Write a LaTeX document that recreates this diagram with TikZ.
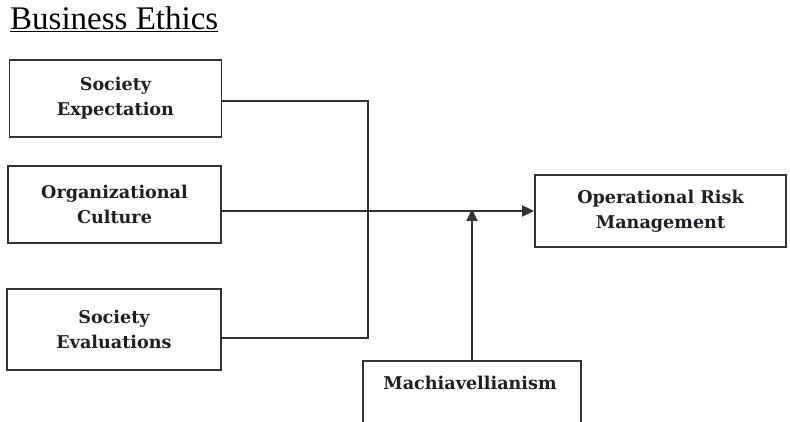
\documentclass[tikz,border=0pt]{standalone}
\usepackage{fontspec}
\setmainfont{DejaVu Serif}
\newfontfamily\titlefont{Liberation Serif}
\usetikzlibrary{arrows.meta}
\definecolor{linegray}{HTML}{333333}
\definecolor{textdark}{HTML}{1E1E28}
\begin{document}
\begin{tikzpicture}[x=1pt,y=-1pt,
  box/.style={draw=linegray, line width=1.8pt, text=textdark, align=center,
    font=\fontsize{17.6}{25}\selectfont\bfseries, inner sep=0pt},
  conn/.style={draw=linegray, line width=1.8pt},
  tip/.style={-{Triangle[length=12pt,width=11pt]}}]
\useasboundingbox (0,0) rectangle (790,422);
\node[anchor=north west, inner sep=0pt, font=\titlefont\fontsize{33}{33}\selectfont] (title) at (10,6) {\underline{Business Ethics}};
\node[box, minimum width=212pt, minimum height=77pt] (se) at (115.5,98.5) {Society\\Expectation};
\node[box, minimum width=213pt, minimum height=77pt] (oc) at (114.5,204.5) {Organizational\\Culture};
\node[box, minimum width=214pt, minimum height=81pt] (sv) at (114,329.5) {Society\\Evaluations};
\node[box, minimum width=251pt, minimum height=72pt] (orm) at (660.5,211) {Operational Risk\\Management};
\draw[draw=linegray, line width=1.8pt] (581,430) |- (363,361) -- (363,430);
\node[text=textdark, font=\fontsize{17.6}{25}\selectfont\bfseries, inner sep=0pt] (mach) at (470,383) {Machiavellianism};
\coordinate (mtop) at (472,361);
\coordinate (mj) at (472,211);
\draw[conn] (se.east |- 0,101) -- (368,101) -- (368,338) -- (sv.east |- 0,338);
\draw[conn, tip] (oc.east |- 0,211) -- (orm.west |- 0,211);
\draw[conn, tip] (mtop) -- ([yshift=2pt]mj);
\end{tikzpicture}
\end{document}
